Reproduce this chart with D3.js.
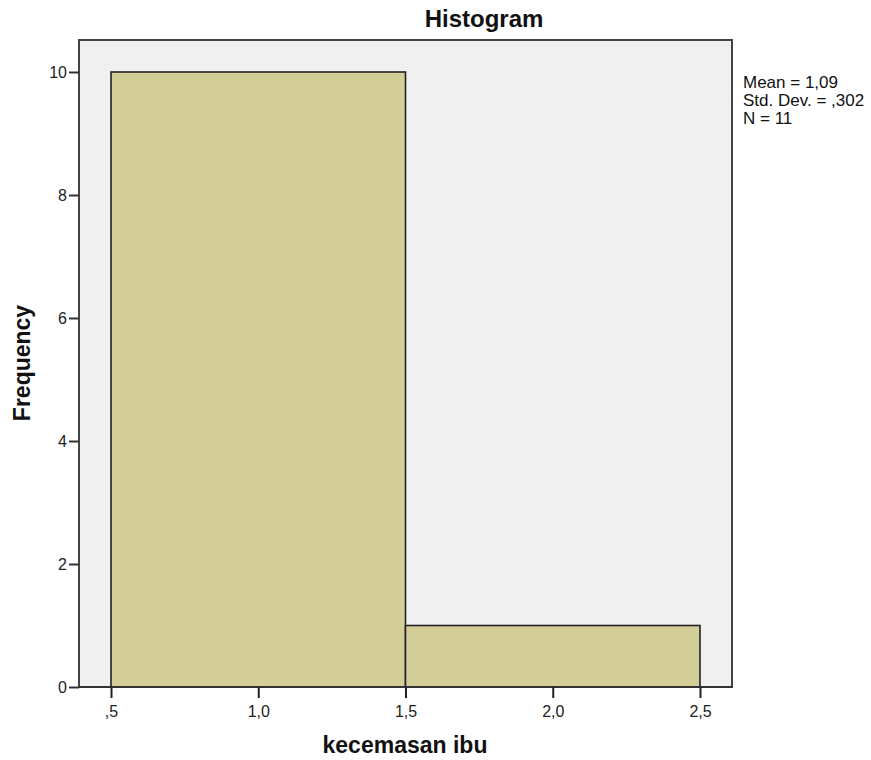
<!DOCTYPE html>
<html><head><meta charset="utf-8">
<script src="https://cdn.jsdelivr.net/npm/d3@7"></script>
<style>body{margin:0;background:#fff}svg{display:block;font-family:"Liberation Sans",Arial,sans-serif}</style>
</head><body>
<script>
const binStarts = [0.5, 1.5];
const binEnds = [1.5, 2.5];
const frequencies = [10, 1];
const xTicks = [0.5, 1.0, 1.5, 2.0, 2.5];
const xTickLabels = [",5", "1,0", "1,5", "2,0", "2,5"];
const yTicks = [0, 2, 4, 6, 8, 10];
const statsLines = ["Mean = 1,09", "Std. Dev. = ,302", "N = 11"];

const W = 871, H = 760;
const svg = d3.select("body").append("svg").attr("width", W).attr("height", H);
const L = 79, R = 732, T = 40, B = 687;
const x = d3.scaleLinear().domain([0.5 - 32/294.5, 2.5 + 32/294.5]).range([L, R]);
const y = d3.scaleLinear().domain([0, 10 + 32/61.5]).range([B, T]);

svg.append("rect").attr("x", L).attr("y", T).attr("width", R - L).attr("height", B - T)
  .attr("fill", "#f0f0f0").attr("stroke", "#444").attr("stroke-width", 2);

svg.selectAll("rect.bar").data(frequencies).enter().append("rect").attr("class", "bar")
  .attr("x", (d, i) => x(binStarts[i]))
  .attr("y", d => y(d))
  .attr("width", (d, i) => x(binEnds[i]) - x(binStarts[i]))
  .attr("height", d => y(0) - y(d))
  .attr("fill", "#d3ce97").attr("stroke", "#222").attr("stroke-width", 1.6);

svg.append("line").attr("x1", L).attr("x2", R).attr("y1", B).attr("y2", B).attr("stroke", "#333").attr("stroke-width", 2);

const yAxis = d3.axisLeft(y).tickValues(yTicks).tickSize(10).tickSizeOuter(0).tickFormat(d3.format("d"));
const gy = svg.append("g").attr("transform", `translate(${L},0)`).call(yAxis);
gy.select(".domain").remove();
gy.selectAll("line").attr("stroke", "#333").attr("stroke-width", 2);
gy.selectAll("text").attr("font-size", 16).attr("fill", "#222").attr("font-family", "Liberation Sans, Arial, sans-serif").attr("x", -12).attr("dy", "0.36em");

const xAxis = d3.axisBottom(x).tickValues(xTicks).tickSize(11).tickSizeOuter(0).tickFormat((d, i) => xTickLabels[i]);
const gx = svg.append("g").attr("transform", `translate(0,${B})`).call(xAxis);
gx.select(".domain").remove();
gx.selectAll("line").attr("stroke", "#222").attr("stroke-width", 2);
gx.selectAll("text").attr("font-size", 16).attr("fill", "#222").attr("font-family", "Liberation Sans, Arial, sans-serif").attr("y", 30).attr("dy", "0");

svg.append("text").attr("x", 484).attr("y", 27).attr("text-anchor", "middle")
  .attr("font-size", 24).attr("font-weight", "bold").attr("fill", "#111").text("Histogram");

svg.append("text").attr("x", 405).attr("y", 753).attr("text-anchor", "middle")
  .attr("font-size", 23).attr("font-weight", "bold").attr("fill", "#111").text("kecemasan ibu");

svg.append("text").attr("transform", "translate(30,363) rotate(-90)").attr("text-anchor", "middle")
  .attr("font-size", 23).attr("font-weight", "bold").attr("fill", "#111").text("Frequency");

svg.selectAll("text.stats").data(statsLines).enter().append("text").attr("class", "stats")
  .attr("x", 743).attr("y", (d, i) => 88 + i * 18)
  .attr("font-size", 17).attr("fill", "#111").text(d => d);
</script>
</body></html>
